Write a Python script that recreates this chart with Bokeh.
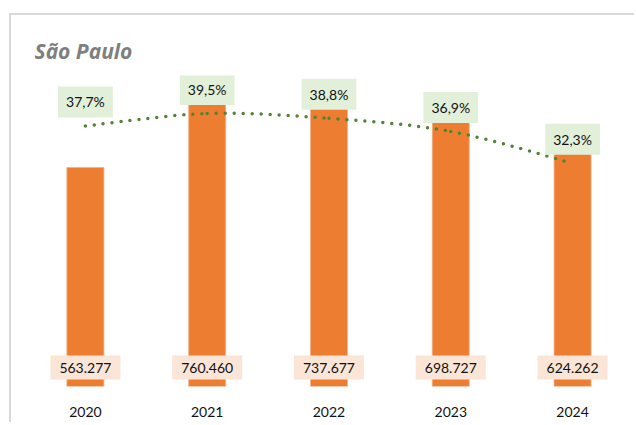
from bokeh.plotting import figure
from bokeh.models import Range1d, FixedTicker, Label
from bokeh.embed import file_html
from bokeh.resources import INLINE

# ---- data ----
title_text = "São Paulo"
years = [2020, 2021, 2022, 2023, 2024]
year_labels = ["2020", "2021", "2022", "2023", "2024"]
values = [563277, 760460, 737677, 698727, 624262]
value_labels = ["563.277", "760.460", "737.677", "698.727", "624.262"]
pct = [37.7, 39.5, 38.8, 36.9, 32.3]
pct_labels = ["37,7%", "39,5%", "38,8%", "36,9%", "32,3%"]

FONT = "Lato"
BAR = "#ED7D31"
GREEN = "#548235"

p = figure(width=625, height=409,
           x_range=Range1d(2019.5, 2024.525), y_range=Range1d(0, 800000),
           output_backend="svg", toolbar_location=None,
           min_border_left=13, min_border_right=0, min_border_top=60, min_border_bottom=38,
           margin=(13, 0, 0, 9),
           styles={"border-top": "2px solid #D9D9D9", "border-left": "2px solid #D9D9D9"})
p.extra_y_ranges = {"pct": Range1d(0, 45)}
p.outline_line_color = None
p.xgrid.visible = False
p.ygrid.visible = False
p.yaxis.visible = False
p.background_fill_color = "white"
p.border_fill_color = "white"

p.title.text = title_text
p.title.text_font = "Open Sans"
p.title.text_font_style = "bold italic"
p.title.text_font_size = "21px"
p.title.text_color = "#7F7F7F"
p.title.align = "left"
p.title.offset = 10
p.title.standoff = 21

xa = p.xaxis[0]
xa.ticker = FixedTicker(ticks=years)
xa.major_label_overrides = {y: l for y, l in zip(years, year_labels)}
xa.axis_line_color = None
xa.major_tick_line_color = None
xa.minor_tick_line_color = None
xa.major_label_text_font = FONT
xa.major_label_text_font_size = "14px"
xa.major_label_text_color = "#111111"
xa.major_label_standoff = 14

p.vbar(x=years, top=values, width=0.304, fill_color=BAR, line_color="#F4B183", line_width=0.8)

# smoothed line (Catmull-Rom -> cubic Bezier)
n = len(years)
x0s, y0s, x1s, y1s, cx0s, cy0s, cx1s, cy1s = ([] for _ in range(8))
for i in range(n - 1):
    a = max(i - 1, 0)
    d = min(i + 2, n - 1)
    x0s.append(years[i]); y0s.append(pct[i])
    x1s.append(years[i + 1]); y1s.append(pct[i + 1])
    cx0s.append(years[i] + (years[i + 1] - years[a]) / 6)
    cy0s.append(pct[i] + (pct[i + 1] - pct[a]) / 6)
    cx1s.append(years[i + 1] - (years[d] - years[i]) / 6)
    cy1s.append(pct[i + 1] - (pct[d] - pct[i]) / 6)
p.bezier(x0=x0s, y0=y0s, x1=x1s, y1=y1s, cx0=cx0s, cy0=cy0s, cx1=cx1s, cy1=cy1s,
         y_range_name="pct", line_color=GREEN, line_width=3.5, line_dash="0 9", line_cap="round")

for yr, pv, pl in zip(years, pct, pct_labels):
    p.add_layout(Label(x=yr, y=pv, y_range_name="pct", text=pl, y_offset=24,
                       text_align="center", text_baseline="middle",
                       text_font=FONT, text_font_size="14px", text_color="#111111",
                       background_fill_color="#E2F0D9", padding=(8, 7)))

for yr, vl in zip(years, value_labels):
    p.add_layout(Label(x=yr, y=0, text=vl, y_offset=19,
                       text_align="center", text_baseline="middle",
                       text_font=FONT, text_font_size="14px", text_color="#111111",
                       background_fill_color="#FBE5D6", padding=(9, 7)))

open("out.html", "w").write(file_html(p, INLINE))
